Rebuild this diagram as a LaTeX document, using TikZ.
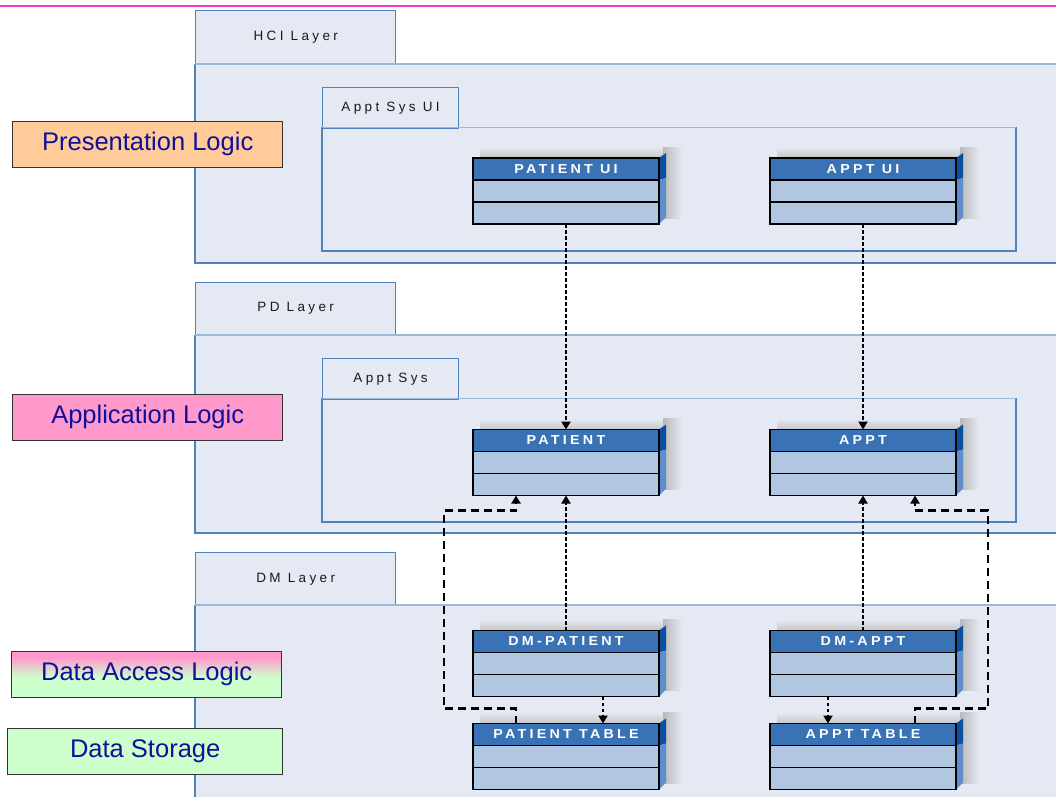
\documentclass[tikz,border=0pt]{standalone}
\usepackage{fontspec}
\setmainfont{Liberation Sans}
\newfontfamily\tabfont[LetterSpace=25]{Liberation Sans}
\newfontfamily\titlefont[LetterSpace=25, FakeStretch=1.1]{Liberation Sans Bold}
\usetikzlibrary{arrows.meta}

\definecolor{layerbg}{HTML}{E4E9F3}
\definecolor{layerline}{HTML}{4F81BD}
\definecolor{layertop}{HTML}{9DB9D9}
\definecolor{hdrblue}{HTML}{3A73B5}
\definecolor{rowblue}{HTML}{B1C6E0}
\definecolor{sidedark}{HTML}{0B4FA0}
\definecolor{sidelight}{HTML}{5E8FCC}
\definecolor{navytext}{HTML}{10109A}
\definecolor{orangefill}{HTML}{FFCC99}
\definecolor{pinkfill}{HTML}{FF99CC}
\definecolor{greenfill}{HTML}{CCFFCC}
\definecolor{magentaline}{HTML}{FF33CC}

% pink-to-green fill of the data access box (path maps to 25bp..75bp)
\pgfdeclareverticalshading{dalshade}{100bp}{color(0bp)=(greenfill); color(25bp)=(greenfill); color(47bp)=(greenfill); color(68bp)=(pinkfill); color(100bp)=(pinkfill)}

\tikzset{
  tabbox/.style={draw=layerline, line width=1.4pt, fill=layerbg, inner sep=0pt,
    anchor=north west, font=\tabfont\fontsize{13.5}{15}\selectfont, text=black!90},
  classbox/.style={draw=black, line width=1.8pt, fill=rowblue, inner sep=0pt, outer sep=0pt,
    minimum width=186pt, minimum height=66pt, anchor=north west},
  classtitle/.style={font=\titlefont\fontsize{13}{15}\selectfont, text=white, inner sep=0pt},
  lbl/.style={draw=black!80, line width=1.4pt, anchor=north west, inner sep=0pt,
    minimum width=270pt, minimum height=46pt, text=navytext, font=\fontsize{25.5}{29}\selectfont},
  dotline/.style={line width=2.8pt, dash pattern=on 3.5pt off 2.5pt,
    -{Triangle[length=8pt,width=9pt]}},
  dashline/.style={line width=2.2pt, dash pattern=on 8pt off 5pt,
    -{Triangle[length=8pt,width=9pt]}},
}

% a class box with a 3D side and a soft shadow: name, left x, top y, title
\newcommand\umlclass[4]{%
  \shade[top color=layerbg, bottom color=gray!45] (#2+7,#3-11) rectangle (#2+196,#3);
  \shade[left color=gray!55, right color=layerbg] (#2+190,#3-11) rectangle (#2+209,#3+60);
  \node[classbox] (#1) at (#2,#3) {};
  \fill[hdrblue] (#1.north west) rectangle ([yshift=-22pt]#1.north east);
  \fill[sidedark] (#1.north east) -- ++(7pt,5pt) -- ++(0,-25pt) -- ++(-7pt,-2pt) -- cycle;
  \fill[sidelight] ([yshift=-22pt]#1.north east) -- ++(7pt,2pt)
    -- ([shift={(7pt,7pt)}]#1.south east) -- (#1.south east) -- cycle;
  \draw[line width=1.6pt] ([yshift=-22pt]#1.north west) -- ([yshift=-22pt]#1.north east);
  \draw[line width=1.6pt] ([yshift=-44pt]#1.north west) -- ([yshift=-44pt]#1.north east);
  \draw[line width=1.8pt] (#1.north west) rectangle (#1.south east);
  \node[classtitle] (#1-t) at ([yshift=-11pt]#1.north) {#4};
}

% a layer: tab and body; name, tab top y, body top y, body bottom y, title
\newcommand\layer[5]{%
  \node[tabbox, minimum width=200pt, minimum height=#3-#2] (#1) at (195,#2) {#5};
  \fill[layerbg] (195,#3) rectangle (1060,#4);
  \draw[layerline, line width=1.4pt] (1060,#4) -- (195,#4) -- (195,#3);
  \draw[layertop, line width=2pt] (195,#3) -- (1060,#3);
}

% a package inside a layer: name, tab top y, box top y, box bottom y, title
\newcommand\package[5]{%
  \node[tabbox, minimum width=136pt, minimum height=#3-#2, line width=1.2pt] (#1) at (322,#2) {#5};
  \draw[layerline, line width=1.2pt] (322,#3) rectangle (1016,#4);
  \draw[layertop, line width=1.6pt] (322,#3) -- (1016,#3);
}

\begin{document}
\begin{tikzpicture}[x=1pt, y=-1pt]
\useasboundingbox (0,0) rectangle (1056,796);
\clip (0,0) rectangle (1056,796);

\draw[magentaline, line width=1.8pt] (0,6) -- (1056,6);

% layers and packages
\layer{hci}{10}{63.5}{263}{HCI Layer}
\package{sysui}{87}{127.5}{251}{Appt Sys UI}
\layer{pd}{281.5}{334.5}{533}{PD Layer}
\package{sys}{358}{398.5}{522}{Appt Sys}
\layer{dm}{552}{605}{820}{DM Layer}

% classes
\umlclass{pui}{473}{158}{PATIENT UI}
\umlclass{aui}{770}{158}{APPT UI}
\umlclass{pat}{473}{429.5}{PATIENT}
\umlclass{appt}{770}{429.5}{APPT}
\umlclass{dmp}{473}{630.5}{DM-PATIENT}
\umlclass{dma}{770}{630.5}{DM-APPT}
\umlclass{ptab}{473}{723.5}{PATIENT TABLE}
\umlclass{atab}{770}{723.5}{APPT TABLE}

% tier labels
\node[lbl, fill=orangefill] (pres) at (12,120.5) {Presentation Logic};
\node[lbl, fill=pinkfill] (app) at (12,393.5) {Application Logic};
\node[lbl, shading=dalshade] (dal) at (11,650.5) {Data Access Logic};
\node[lbl, fill=greenfill, minimum width=275pt] (store) at (7,728) {Data Storage};

% dependencies
\draw[dotline] (pui.south) -- (pat.north);
\draw[dotline] (aui.south) -- (appt.north);
\draw[dotline] (dmp.north) -- (pat.south);
\draw[dotline] (dma.north) -- (appt.south);
\draw[dotline] ([xshift=37pt]dmp.south) -- ([xshift=37pt]ptab.north);
\draw[dotline] ([xshift=-35pt]dma.south) -- ([xshift=-35pt]atab.north);

\draw[dashline] ([xshift=-50pt]ptab.north) -- ++(0,15pt) -| (444,510.5)
  -| ([xshift=-50pt]pat.south);
\draw[dashline] ([xshift=52pt]atab.north) -- ++(0,15pt) -| (988,510.5)
  -| ([xshift=52pt]appt.south);
\end{tikzpicture}
\end{document}
